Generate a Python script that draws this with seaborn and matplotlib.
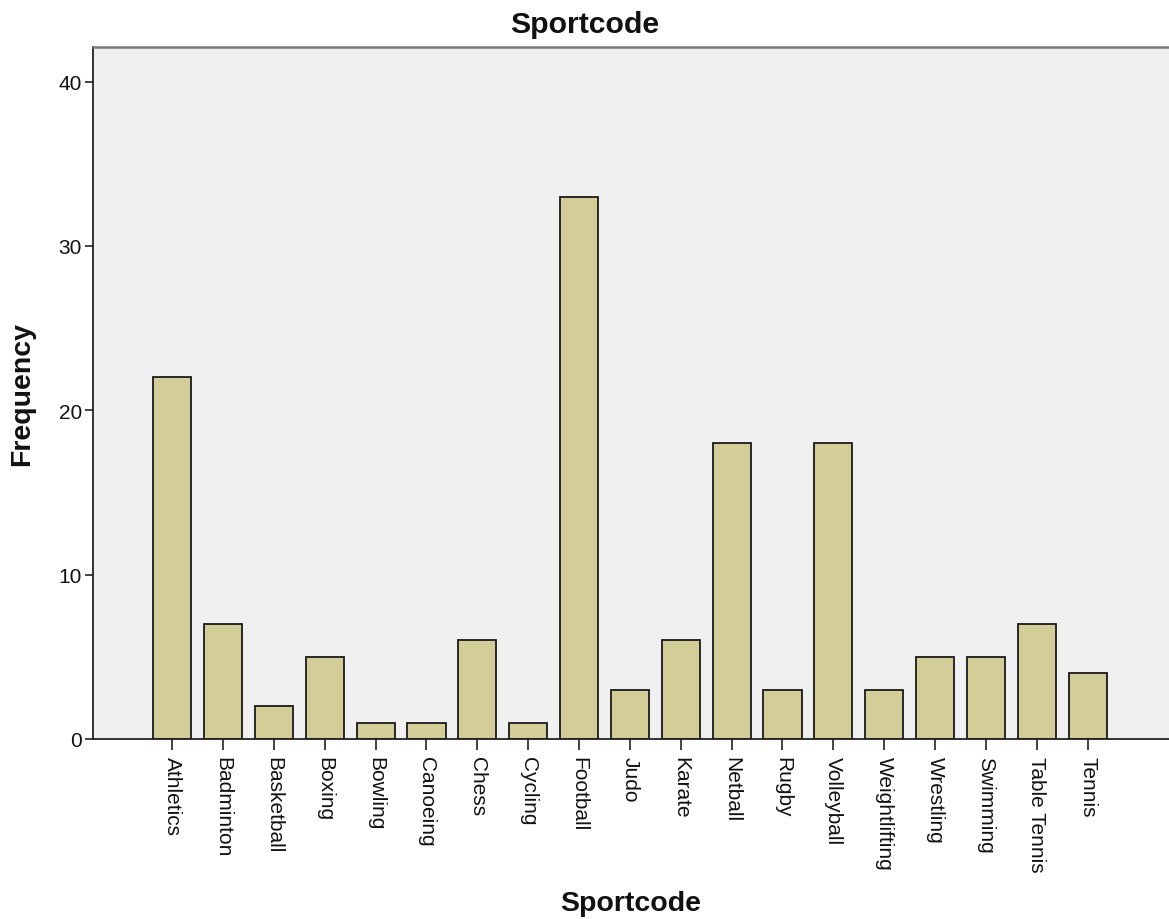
import pandas as pd
import seaborn as sns
import matplotlib
matplotlib.use('Agg')
import matplotlib.pyplot as plt

sports = ['Athletics', 'Badminton', 'Basketball', 'Boxing', 'Bowling', 'Canoeing',
          'Chess', 'Cycling', 'Football', 'Judo', 'Karate', 'Netball', 'Rugby',
          'Volleyball', 'Weightlifting', 'Wrestling', 'Swimming', 'Table Tennis', 'Tennis']
frequency = [22, 7, 2, 5, 1, 1, 6, 1, 33, 3, 6, 18, 3, 18, 3, 5, 5, 7, 4]
y_ticks = [0, 10, 20, 30, 40]

sns.set_style("white")
plt.rcParams['font.family'] = ['Liberation Sans', 'DejaVu Sans']

df = pd.DataFrame({'Sportcode': sports, 'Frequency': frequency})

fig = plt.figure(figsize=(11.69, 9.2), dpi=100)
ax = fig.add_axes([0.0796, 0.1957, 0.9204, 0.7521])
ax.set_facecolor('#F0F0F0')
sns.barplot(data=df, x='Sportcode', y='Frequency', color='#D3CE97', saturation=1,
            edgecolor='#1a1a1a', linewidth=1.3, width=0.75, ax=ax)

ax.set_xlim(-1.555, 19.6)
ax.set_ylim(0, 42.1)
ax.set_yticks(y_ticks)
ax.tick_params(axis='y', direction='out', length=6, width=1.2, color='#222222',
               labelsize=15, labelcolor='#111111', left=True, pad=2)
ax.tick_params(axis='x', direction='out', length=8, width=1.2, color='#222222',
               labelsize=15, labelcolor='#111111', bottom=True, labelrotation=270, pad=4)
for lab in ax.get_xticklabels():
    lab.set_va('top')
    lab.set_ha('center')

for side in ['left', 'bottom']:
    ax.spines[side].set_color('#222222')
    ax.spines[side].set_linewidth(1.3)
ax.spines['top'].set_color('#777777')
ax.spines['top'].set_linewidth(1.8)
ax.spines['right'].set_visible(False)

# title is centred on the whole figure
fig.text(0.5, 1 - 25 / 920, 'Sportcode', fontsize=21.8, fontweight='bold',
         ha='center', va='center', color='#111111')
ax.set_xlabel('Sportcode', fontsize=20.5, fontweight='bold', color='#111111')
ax.xaxis.set_label_coords(0.5, -0.2365)
ax.xaxis.label.set_va('center')
ax.set_ylabel('Frequency', fontsize=20.5, fontweight='bold', color='#111111')
ax.yaxis.set_label_coords(-0.066, 0.5)
ax.yaxis.label.set_va('center')

fig.savefig('out.png', dpi=100)
